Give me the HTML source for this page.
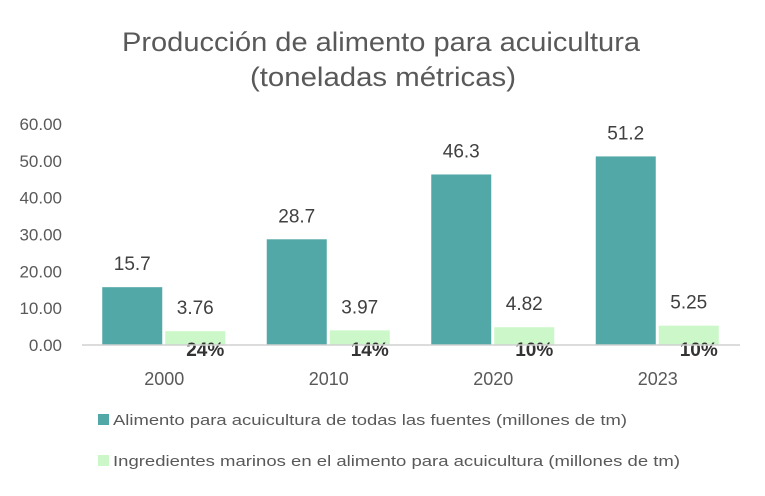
<!DOCTYPE html>
<html><head><meta charset="utf-8"><style>
body{margin:0;background:#fff;font-family:"Liberation Sans",sans-serif}
svg text{font-family:"Liberation Sans",sans-serif}
</style></head><body>
<svg id="chart" width="765" height="491">
<text x="122" y="51" textLength="518" lengthAdjust="spacingAndGlyphs" font-size="27" fill="#595959">Producción de alimento para acuicultura</text>
<text x="250" y="86" textLength="266" lengthAdjust="spacingAndGlyphs" font-size="27" fill="#595959">(toneladas métricas)</text>
<g id="yaxis"></g><g id="bars"></g><g id="xaxis"></g>
<rect x="98" y="414" width="11" height="11" fill="#52a8a6"/>
<text x="113" y="425" textLength="514" lengthAdjust="spacingAndGlyphs" font-size="15" fill="#595959">Alimento para acuicultura de todas las fuentes (millones de tm)</text>
<rect x="98" y="455" width="11" height="11" fill="#ccf7c8"/>
<text x="113" y="466" textLength="567" lengthAdjust="spacingAndGlyphs" font-size="15" fill="#595959">Ingredientes marinos en el alimento para acuicultura (millones de tm)</text>
</svg>
<script>
const categories=["2000","2010","2020","2023"];
const feedValues=[15.7,28.7,46.3,51.2];
const marineValues=[3.76,3.97,4.82,5.25];
const percentLabels=["24%","14%","10%","10%"];
const yTicks=[0,10,20,30,40,50,60];
const NS="http://www.w3.org/2000/svg";
const x0=82,x1=740,base=345,yTop=124,yMax=60;
const y=v=>base-(v/yMax)*(base-yTop);
const bw=(x1-x0)/categories.length;
function mk(tag,attrs,parent,txt){const e=document.createElementNS(NS,tag);for(const k in attrs)e.setAttribute(k,attrs[k]);if(txt!==undefined)e.textContent=txt;parent.appendChild(e);return e;}
const ya=document.getElementById('yaxis'),bars=document.getElementById('bars'),xa=document.getElementById('xaxis');
yTicks.forEach(t=>{const e=mk('text',{x:62,y:y(t)+6,'text-anchor':'end','font-size':17,fill:'#595959'},ya,t.toFixed(2));

});
categories.forEach((c,i)=>{
 const cx=x0+bw*(i+0.5);
 const r1=mk('rect',{x:cx-62,y:y(feedValues[i]),width:60,height:base-y(feedValues[i]),fill:'#52a8a6'},bars);
 
 
 const r2=mk('rect',{x:cx+1,y:y(marineValues[i]),width:60,height:base-y(marineValues[i]),fill:'#ccf7c8'},bars);
 
 
 const l1=mk('text',{x:cx-32,y:y(feedValues[i])-17,'text-anchor':'middle','font-size':19,fill:'#404040'},bars,String(feedValues[i]));
 
 
 const l2=mk('text',{x:cx+31,y:y(marineValues[i])-17,'text-anchor':'middle','font-size':19,fill:'#404040'},bars,String(marineValues[i]));
 
 
 const p=mk('text',{x:cx+60,y:base+11,'text-anchor':'end','font-size':19,'font-weight':'bold',fill:'#333'},bars,percentLabels[i]);
 
 
 const xl=mk('text',{x:cx,y:385,'text-anchor':'middle','font-size':18,fill:'#595959'},xa,c);
 
 
});
const ax=mk('line',{x1:x0,x2:x1,y1:base,y2:base,stroke:'#d0d0d0','stroke-width':1.5},xa);


</script>
</body></html>
